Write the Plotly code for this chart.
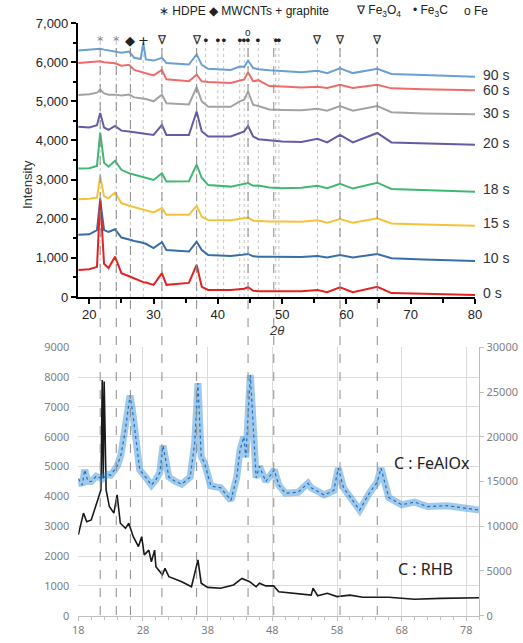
import plotly.graph_objects as go

W, H = 523, 643

# ---------------- TOP PANEL DATA ----------------
x_top = [18.3, 20, 21.2, 21.7, 22.3, 23, 24.0, 25, 26.2, 27, 28, 28.4, 28.8, 30, 31.3, 32,
         35.5, 36.7, 37.5, 38.5, 42, 43.4, 44.1, 44.7, 45.5, 46.3, 48, 50, 53, 55.5, 57,
         59, 61, 64.8, 67, 72, 80]

s90 = [6300, 6320, 6330, 6340, 6320, 6300, 6280, 6240, 6270, 6110, 6080, 6490, 6070, 6040, 6110, 5980,
       5940, 6200, 5930, 5830, 5800, 5890, 5880, 6040, 5850, 5820, 5790, 5770, 5740, 5780, 5720,
       5840, 5720, 5830, 5700, 5670, 5630]
s60 = [5980, 6000, 6010, 6020, 6000, 5980, 5970, 5910, 5930, 5800, 5760, 5740, 5720, 5660, 5800, 5560,
       5510, 5680, 5510, 5490, 5470, 5520, 5560, 5740, 5510, 5540, 5390, 5380, 5350, 5370, 5340,
       5420, 5340, 5420, 5330, 5310, 5280]
s30 = [5160, 5180, 5220, 5300, 5200, 5170, 5170, 5150, 5170, 5100, 5080, 5070, 5060, 5000, 5170, 4950,
       4920, 5360, 5000, 4860, 4860, 5000, 5040, 5250, 4910, 4880, 4790, 4780, 4770, 4810, 4760,
       4880, 4760, 4880, 4720, 4690, 4670]
s20 = [4350, 4330, 4390, 4700, 4330, 4270, 4370, 4250, 4230, 4210, 4190, 4180, 4170, 4140, 4400, 4140,
       4140, 4740, 4230, 4100, 4100, 4190, 4230, 4370, 4100, 4030, 4000, 3970, 3960, 4040, 3950,
       4140, 3950, 4190, 3950, 3920, 3890]
s18 = [3280, 3290, 3350, 4200, 3430, 3330, 3480, 3250, 3160, 3120, 3080, 3060, 3050, 2990, 3160, 2950,
       2960, 3380, 3040, 2860, 2820, 2860, 2880, 2910, 2840, 2850, 2800, 2780, 2790, 2840, 2780,
       2890, 2770, 2920, 2760, 2730, 2690]
s15 = [2500, 2510, 2540, 3080, 2570, 2520, 2670, 2400, 2330, 2290, 2240, 2230, 2210, 2160, 2270, 2100,
       2100, 2330, 2050, 1970, 1960, 1990, 2000, 2030, 1950, 1940, 1930, 1930, 1920, 1960, 1900,
       1990, 1900, 2010, 1880, 1850, 1820]
s10 = [1590, 1600, 1710, 2480, 1710, 1660, 1730, 1520, 1470, 1430, 1400, 1380, 1360, 1250, 1400, 1200,
       1160, 1410, 1200, 1070, 1050, 1070, 1080, 1100, 1040, 1030, 1030, 1030, 1020, 1050, 1010,
       1070, 1010, 1100, 990, 960, 920]
s0 = [690, 710, 770, 2520, 850, 740, 1030, 610, 530, 470, 390, 380, 370, 310, 610, 310,
      360, 820, 260, 180, 180, 200, 210, 250, 160, 150, 150, 150, 150, 180, 120,
      250, 120, 260, 100, 80, 50]

top_names = ["90 s", "60 s", "30 s", "20 s", "18 s", "15 s", "10 s", "0 s"]
top_series = [s90, s60, s30, s20, s18, s15, s10, s0]
top_colors = ["#6a9fd6", "#ef6b6b", "#a3a3a3", "#625ca6", "#3fb874", "#f6c23a", "#386ea6", "#e32222"]
top_label_y = [75, 90, 113, 143, 189, 223, 258, 293]

# reference peak markers (top)
mark_x = [21.7, 24.2, 26.4, 28.4, 31.3, 36.7, 38.1, 40.0, 40.9, 43.4, 44.1, 44.7, 46.3, 49.0, 49.5, 55.5, 59.0, 64.8]
mark_sym = ["*", "*", "◆", "+", "∇", "∇", "•", "•", "•", "•", "•", "•", "•", "•", "•", "∇", "∇", "∇"]
span_x = [21.7, 24.2, 26.4, 31.3, 36.7, 44.7, 48.7, 59.0, 64.8]

# ---------------- BOTTOM PANEL DATA ----------------
x_feal = [18, 18.6, 19, 19.5, 20, 20.8, 21.7, 22.5, 23, 24, 24.6, 25.2, 25.6, 26.0, 26.4, 27, 27.5, 28.5,
          29.3, 30, 30.6, 31.1, 31.6, 32, 33, 34, 35.3, 36.0, 36.5, 37, 37.5, 38.5, 40, 41.6, 42.5,
          43.0, 43.6, 43.9, 44.6, 45.0, 45.5, 46, 47, 48.3, 49, 50, 52, 53.5, 54, 56, 57.5, 58.2,
          59, 60, 61.5, 63, 64.2, 64.8, 65.5, 66, 68, 70, 72, 75, 78, 80]
y_feal = [15300, 14600, 16300, 15000, 15000, 15600, 15300, 15800, 15700, 16700, 18000, 20400, 22500, 24600, 22800, 19300, 16300, 15400,
          14600, 15200, 16000, 19000, 16800, 15500, 15000, 14700, 15500, 19300, 26000, 17800, 17100, 14500, 14300, 12900, 15500,
          18500, 20000, 17700, 26900, 21500, 15400, 16700, 15000, 16300, 14600, 13700, 13800, 14800, 14300, 13500, 14000, 16500,
          14300, 13300, 11800, 13700, 14900, 16500, 14500, 13200, 12400, 12700, 12200, 12300, 12000, 11800]

x_rhb = [18, 18.8, 19.3, 20, 21, 21.5, 21.7, 21.85, 22.0, 22.3, 22.8, 23.5, 24.0, 24.5, 25.3, 25.8, 26.5,
         27.3, 27.8, 28.2, 28.9, 29.3, 29.8, 30.0, 31.0, 31.4, 32, 34, 35.5, 36.5, 37, 38, 40, 42, 43.3,
         44.5, 45.5, 46, 47, 48.2, 49, 52, 54.0, 54.3, 55, 56.5, 58, 60, 62, 66, 70, 74, 80]
y_rhb = [2710, 3440, 3150, 3210, 3880, 4220, 7900, 4600, 7850, 4220, 3660, 3440, 4050, 3100, 2930, 3100, 2650,
         2320, 2650, 2040, 2200, 1810, 2200, 1640, 1370, 1590, 1310, 1140, 970, 1870, 1090, 950, 920, 1030, 1250,
         1140, 970, 1090, 1000, 1000, 800, 730, 690, 920, 670, 750, 640, 690, 620, 620, 550, 580, 600]


def px(v):
    return v / W


def py(v):
    return 1 - v / H


fig = go.Figure()

for name, ys, col in zip(top_names, top_series, top_colors):
    fig.add_trace(go.Scatter(x=x_top, y=ys, mode="lines", line=dict(color=col, width=2),
                             name=name, showlegend=False, xaxis="x", yaxis="y"))

# bottom panel
fig.add_trace(go.Scatter(x=x_feal, y=y_feal, mode="lines",
                         line=dict(color="rgba(45,135,210,0.45)", width=7),
                         showlegend=False, xaxis="x2", yaxis="y3"))
fig.add_trace(go.Scatter(x=x_feal, y=y_feal, mode="lines",
                         line=dict(color="#1b72c2", width=1.2, dash="dot"),
                         showlegend=False, xaxis="x2", yaxis="y3"))
fig.add_trace(go.Scatter(x=x_rhb, y=y_rhb, mode="lines",
                         line=dict(color="#1a1a1a", width=1.6),
                         showlegend=False, xaxis="x2", yaxis="y2"))

shapes = []
# light dotted lines in top panel
for mx in mark_x:
    shapes.append(dict(type="line", xref="x", yref="paper", x0=mx, x1=mx,
                       y0=py(297), y1=py(38), line=dict(color="#c4c4c4", width=1, dash="dot"), layer="below"))
# long dashed lines across both panels
for sx in span_x:
    shapes.append(dict(type="line", xref="x", yref="paper", x0=sx, x1=sx,
                       y0=py(615), y1=py(38), line=dict(color="#8c8c8c", width=1, dash="dash"), layer="above"))

ann = []
TF = "Liberation Sans, Arial, sans-serif"
for mx, sym in zip(mark_x, mark_sym):
    col = "#8a8a8a" if sym == "*" else "#222"
    size = 12 if sym == "∇" else 13
    ann.append(dict(x=mx, y=py(31), xref="x", yref="paper", text=sym, showarrow=False,
                    font=dict(family="DejaVu Sans", size=size, color=col)))
ann.append(dict(x=44.7, y=py(25), xref="x", yref="paper", text="o", showarrow=False,
                font=dict(family=TF, size=10, color="#222")))

legend_items = [("∗ HDPE", 157), ("◆ MWCNTs + graphite", 207), ("∇ Fe<sub>3</sub>O<sub>4</sub>", 354),
                ("• Fe<sub>3</sub>C", 411), ("o Fe", 462)]
for txt, lx in legend_items:
    ann.append(dict(x=px(lx), y=py(11), xref="paper", yref="paper", text=txt, showarrow=False,
                    xanchor="left", yanchor="middle", font=dict(family=TF, size=12, color="#222")))

for name, ly in zip(top_names, top_label_y):
    ann.append(dict(x=px(481), y=py(ly), xref="paper", yref="paper", text=name, showarrow=False,
                    xanchor="left", yanchor="middle", font=dict(family=TF, size=14, color="#333")))

ann.append(dict(x=px(18), y=py(158), xref="paper", yref="paper", text="Intensity", showarrow=False,
                textangle=-90, font=dict(family=TF, size=13, color="#333")))
ann.append(dict(x=px(276), y=py(330), xref="paper", yref="paper", text="<i>2θ</i>", showarrow=False,
                font=dict(family=TF, size=13, color="#333")))

BF = "Noto Sans, Open Sans, sans-serif"
ann.append(dict(x=px(392), y=py(476), xref="paper", yref="paper", text="C : FeAlOx", showarrow=False,
                xanchor="left", font=dict(family=BF, size=16, color="#222")))
ann.append(dict(x=px(396), y=py(582), xref="paper", yref="paper", text="C : RHB", showarrow=False,
                xanchor="left", font=dict(family=BF, size=16, color="#222")))

fig.update_layout(
    width=W, height=H, margin=dict(l=0, r=0, t=0, b=0, autoexpand=False),
    paper_bgcolor="white", plot_bgcolor="white",
    shapes=shapes, annotations=ann,
    xaxis=dict(domain=[px(77.7), px(475)], range=[18.2, 80], anchor="y", automargin=False,
               showline=True, linecolor="black", linewidth=1.5, mirror=False,
               ticks="outside", ticklen=5, tickwidth=1.5, tickcolor="black",
               tick0=0, dtick=10, showgrid=False, zeroline=False,
               minor=dict(ticks="outside", dtick=5, tick0=0, ticklen=4, tickcolor="black", showgrid=False),
               tickfont=dict(family=TF, size=13, color="#222")),
    yaxis=dict(domain=[py(297), py(23)], range=[0, 7000], anchor="x", automargin=False,
               showline=True, linecolor="black", linewidth=1.5,
               ticks="outside", ticklen=5, tickwidth=1.5, tickcolor="black",
               dtick=1000, tickformat=",", showgrid=False, zeroline=False,
               minor=dict(ticks="outside", dtick=500, ticklen=3, tickcolor="black", showgrid=False),
               tickfont=dict(family=TF, size=13, color="#222")),
    xaxis2=dict(domain=[px(78.3), px(479.3)], range=[18, 80], anchor="y2", automargin=False,
                showline=True, linecolor="#bfbfbf", linewidth=1,
                ticks="outside", ticklen=4, tickcolor="#bfbfbf",
                tick0=18, dtick=10, showgrid=True, gridcolor="#dcdcdc", zeroline=False,
                minor=dict(ticks="outside", dtick=2, tick0=18, ticklen=3, tickcolor="#bfbfbf", showgrid=False),
                tickfont=dict(family=BF, size=11, color="#7f7f7f")),
    yaxis2=dict(domain=[py(615.7), py(347.3)], range=[0, 9000], anchor="x2", automargin=False,
                showline=False, dtick=1000, showgrid=True, gridcolor="#dcdcdc", zeroline=False,
                ticks="", ticklabelstandoff=8, tickfont=dict(family=BF, size=11, color="#7f7f7f")),
    yaxis3=dict(range=[0, 30000], overlaying="y2", side="right", anchor="x2", automargin=False,
                showline=True, linecolor="#bfbfbf", linewidth=1, ticks="outside", ticklen=4,
                tickcolor="#bfbfbf", dtick=5000, tickformat="d", showgrid=False, zeroline=False,
                tickfont=dict(family=BF, size=11, color="#7f7f7f")),
)

fig.write_html("out.html", config={"displayModeBar": False},
               post_script="document.body.style.margin='0px';")
